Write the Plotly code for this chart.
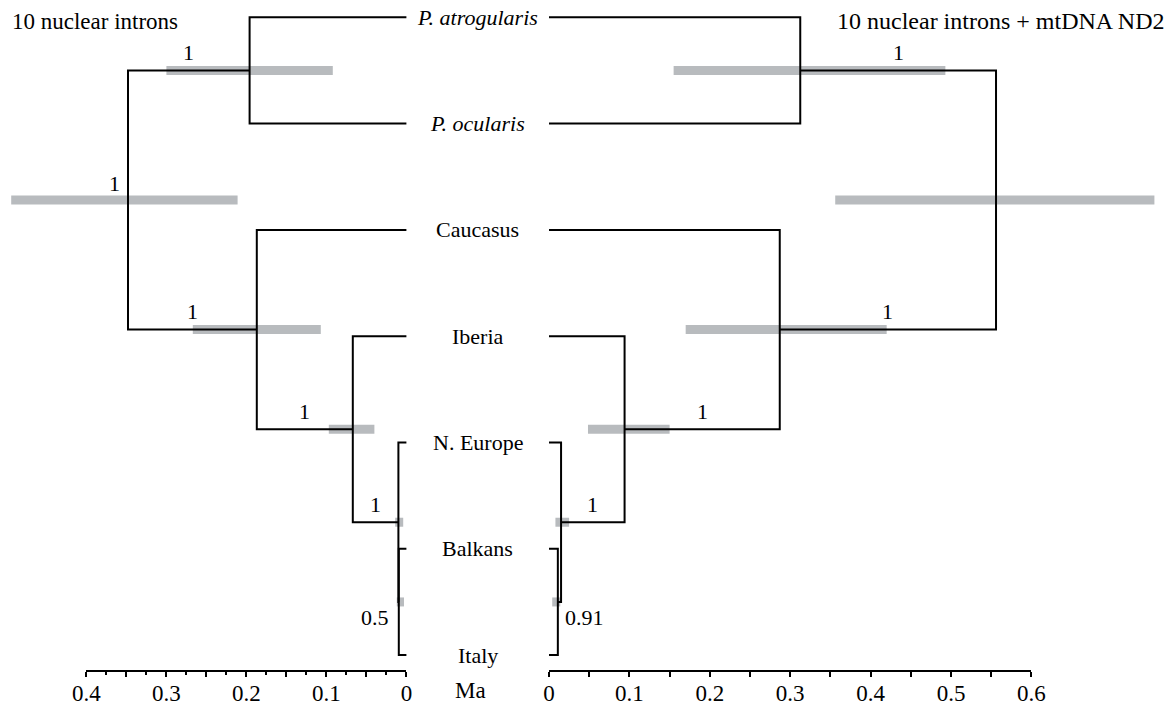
import plotly.graph_objects as go

W, H = 1171, 706
FONT = "Liberation Serif"
FS = 22
GREY = "#b8bbbe"

# ---------------- data ----------------
taxa = ["P. atrogularis", "P. ocularis", "Caucasus", "Iberia", "N. Europe", "Balkans", "Italy"]
taxa_italic = [True, True, False, False, False, False, False]

node_names = ["BI", "NE", "IB", "CA", "AO", "root"]
node_children = [("Balkans", "Italy"), ("N. Europe", "BI"), ("Iberia", "NE"),
                 ("Caucasus", "IB"), ("P. atrogularis", "P. ocularis"), ("AO", "CA")]

# left tree: 10 nuclear introns (ages in Ma)
left_ages = [0.0095, 0.010, 0.067, 0.187, 0.196, 0.348]
left_hpd_low = [0.003, 0.004, 0.040, 0.107, 0.092, 0.211]
left_hpd_high = [0.012, 0.014, 0.097, 0.267, 0.300, 0.494]
left_support = ["0.5", "1", "1", "1", "1", "1"]

# right tree: 10 nuclear introns + mtDNA ND2 (ages in Ma)
right_ages = [0.011, 0.015, 0.094, 0.287, 0.3125, 0.556]
right_hpd_low = [0.004, 0.008, 0.0485, 0.170, 0.155, 0.356]
right_hpd_high = [0.014, 0.025, 0.150, 0.420, 0.493, 0.753]
right_support = ["0.91", "1", "1", "1", "1", ""]

left_ticks = [0, 0.05, 0.1, 0.15, 0.2, 0.25, 0.3, 0.35, 0.4]
left_ticklabels = ["0", "", "0.1", "", "0.2", "", "0.3", "", "0.4"]
right_ticks = [0, 0.05, 0.1, 0.15, 0.2, 0.25, 0.3, 0.35, 0.4, 0.45, 0.5, 0.55, 0.6]
right_ticklabels = ["0", "", "0.1", "", "0.2", "", "0.3", "", "0.4", "", "0.5", "", "0.6"]

title_left = "10 nuclear introns"
title_right = "10 nuclear introns + mtDNA ND2"
axis_unit = "Ma"

# ---------------- geometry (pixel calibration of the scales) ----------------
L0, LS = 406.4, 800.0   # left: px of age 0, px per Ma
R0, RS = 549.0, 804.0   # right
SPLIT = 478.0
Y0, DY = 17.3, 106.3    # px of first taxon, px per taxon row
AXIS_Y = 671.0

# y positions (in taxon-index units)
ypos = {t: float(i) for i, t in enumerate(taxa)}
for n, (a, b) in zip(node_names, node_children):
    ypos[n] = (ypos[a] + ypos[b]) / 2.0
parent = {}
for n, (a, b) in zip(node_names, node_children):
    parent[a] = n
    parent[b] = n


def tree_traces(ages, lo, hi, xa):
    age = {t: 0.0 for t in taxa}
    age.update(dict(zip(node_names, ages)))
    gx, gy = [], []
    for n, l, h in zip(node_names, lo, hi):
        gx += [l, h, None]
        gy += [ypos[n], ypos[n], None]
    lx, ly = [], []
    for n, (a, b) in zip(node_names, node_children):
        lx += [age[a], age[n], age[n], age[b], None]
        ly += [ypos[a], ypos[a], ypos[b], ypos[b], None]
    bars = go.Scatter(x=gx, y=gy, mode="lines", xaxis=xa, yaxis="y",
                      line=dict(color=GREY, width=9), hoverinfo="skip", showlegend=False)
    lines = go.Scatter(x=lx, y=ly, mode="lines", xaxis=xa, yaxis="y",
                       line=dict(color="black", width=2), hoverinfo="skip", showlegend=False)
    return [bars, lines], age


fig = go.Figure()
tl, age_l = tree_traces(left_ages, left_hpd_low, left_hpd_high, "x")
tr, age_r = tree_traces(right_ages, right_hpd_low, right_hpd_high, "x2")
for t in tl + tr:
    fig.add_trace(t)
# invisible anchors for ruler axes
fig.add_trace(go.Scatter(x=[0, 0.4], y=[None, None], xaxis="x3", yaxis="y", mode="markers",
                         showlegend=False, hoverinfo="skip"))
fig.add_trace(go.Scatter(x=[0, 0.6], y=[None, None], xaxis="x4", yaxis="y", mode="markers",
                         showlegend=False, hoverinfo="skip"))

ann = []
font = dict(family=FONT, size=FS, color="black")
tfont = dict(family=FONT, size=23, color="black")


def support_labels(age, support, xref, side):
    for n, s in zip(node_names, support):
        if not s:
            continue
        if n == "root":
            ann.append(dict(x=age[n], y=ypos[n], xref=xref, yref="y", text=s, showarrow=False,
                            font=font, xanchor="right" if side == "L" else "left",
                            xshift=-6 if side == "L" else 6, yshift=17))
        elif n == "BI":
            ann.append(dict(x=age[n], y=ypos[n], xref=xref, yref="y", text=s, showarrow=False,
                            font=font, xanchor="right" if side == "L" else "left",
                            xshift=-8 if side == "L" else 5, yshift=-16))
        else:
            xm = (age[n] + age[parent[n]]) / 2.0
            ann.append(dict(x=xm, y=ypos[n], xref=xref, yref="y", text=s, showarrow=False,
                            font=font, xanchor="center", yshift=18))


support_labels(age_l, left_support, "x", "L")
support_labels(age_r, right_support, "x2", "R")

for t, it in zip(taxa, taxa_italic):
    ann.append(dict(x=(L0 + R0) / 2 / W, y=ypos[t], xref="paper", yref="y",
                    text=f"<i>{t}</i>" if it else t, showarrow=False, font=font,
                    xanchor="center", yanchor="middle"))

ann.append(dict(x=10 / W, y=1 - 21 / H, xref="paper", yref="paper", text=title_left,
                showarrow=False, font=tfont, xanchor="left", yanchor="middle"))
ann.append(dict(x=1167 / W, y=1 - 21 / H, xref="paper", yref="paper", text=title_right,
                showarrow=False, font=dict(family=FONT, size=24, color="black"),
                xanchor="right", yanchor="middle"))
ann.append(dict(x=470 / W, y=1 - 690 / H, xref="paper", yref="paper", text=axis_unit,
                showarrow=False, font=tfont, xanchor="center", yanchor="middle"))

xl_range = [L0 / LS, (L0 - SPLIT) / LS]
xr_range = [(SPLIT - R0) / RS, (W - R0) / RS]
y_range = [(H - Y0) / DY, -Y0 / DY]

hidden = dict(visible=False, showgrid=False, zeroline=False, fixedrange=True, automargin=False)
ruler_common = dict(showline=True, linecolor="black", linewidth=2, ticks="outside",
                    ticklen=5, tickwidth=2, tickcolor="black", showgrid=False, zeroline=False,
                    tickfont=dict(family=FONT, size=23, color="black"), automargin=False,
                    ticklabelstandoff=-4, ticklabeloverflow="allow",
                    anchor="free", position=1 - AXIS_Y / H, tickmode="array", fixedrange=True)

fig.update_layout(
    width=W, height=H, margin=dict(l=0, r=0, t=0, b=0, pad=0, autoexpand=False), autosize=False,
    paper_bgcolor="white", plot_bgcolor="rgba(0,0,0,0)",
    showlegend=False,
    xaxis=dict(domain=[0, SPLIT / W], range=xl_range, **hidden),
    xaxis2=dict(domain=[SPLIT / W, 1], range=xr_range, anchor="y", **hidden),
    xaxis3=dict(domain=[(L0 - 0.4 * LS) / W, L0 / W], range=[0.4, 0],
                tickvals=left_ticks, ticktext=left_ticklabels,
                minor=dict(dtick=0.025, tick0=0, ticklen=3, ticks="outside", tickwidth=1.5,
                           tickcolor="black", showgrid=False),
                **ruler_common),
    xaxis4=dict(domain=[R0 / W, (R0 + 0.6 * RS) / W], range=[0, 0.6],
                tickvals=right_ticks, ticktext=right_ticklabels, **ruler_common),
    yaxis=dict(domain=[0, 1], range=y_range, **hidden),
    annotations=ann,
)

fig.write_html(
    "out.html",
    config={"responsive": False, "displayModeBar": False},
    post_script="document.body.style.margin='0';document.body.style.overflow='hidden';",
)
